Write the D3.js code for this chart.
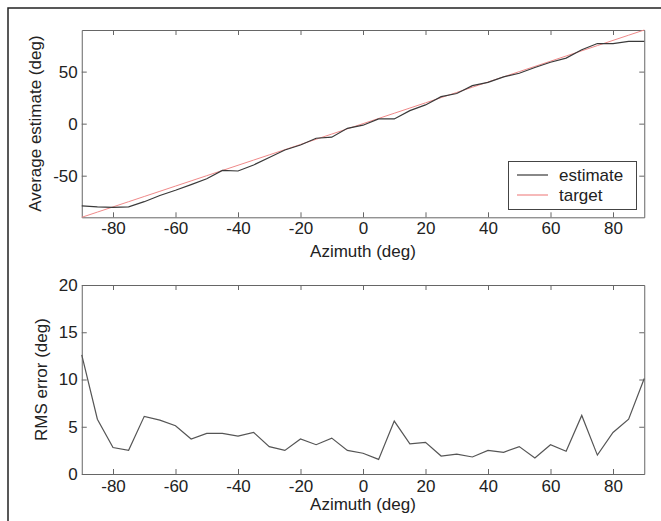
<!DOCTYPE html>
<html>
<head>
<meta charset="utf-8">
<script src="https://cdn.jsdelivr.net/npm/d3@7"></script>
<style>
  html, body { margin: 0; padding: 0; background: #fff; }
  svg { display: block; }
  text { font-family: "Liberation Sans", Arial, sans-serif; fill: #222; }
</style>
</head>
<body>
<svg id="chart" width="661" height="521"></svg>
<script>
// ---- data ----
const azimuth = [-90,-85,-80,-75,-70,-65,-60,-55,-50,-45,-40,-35,-30,-25,-20,-15,-10,-5,0,5,10,15,20,25,30,35,40,45,50,55,60,65,70,75,80,85,90];
const estimate = [-79,-80,-80.5,-80,-75,-69,-64,-58.6,-53,-45,-45.5,-39.7,-32.5,-25.3,-20.5,-14,-13,-4.5,-1.5,4.5,4.5,12.5,18,26,29,36.5,39.7,45,48.4,54,59,63,71,77,77,79,79];
const target = [-90,-85,-80,-75,-70,-65,-60,-55,-50,-45,-40,-35,-30,-25,-20,-15,-10,-5,0,5,10,15,20,25,30,35,40,45,50,55,60,65,70,75,80,85,90];
const rmsError = [12.6,5.8,2.8,2.5,6.1,5.7,5.1,3.7,4.3,4.3,4.0,4.4,2.9,2.5,3.7,3.1,3.8,2.5,2.2,1.55,5.6,3.2,3.35,1.9,2.1,1.8,2.5,2.3,2.9,1.7,3.1,2.4,6.2,2.0,4.4,5.8,10.1];
const xTicks = [-80,-60,-40,-20,0,20,40,60,80];
const yTicksTop = [-50,0,50];
const yTicksBottom = [0,5,10,15,20];
const legendLabels = ["estimate","target"];

const svg = d3.select("#chart");
const FONT = 17;
const axisColor = "#666";
const fmt = d => String(d); // plain hyphen-minus as in the reference

// outer figure frame (extends beyond the view on right and bottom)
svg.append("path")
  .attr("d", "M8,530 L8,8 L670,8")
  .attr("fill", "none").attr("stroke", "#222").attr("stroke-width", 1.5);

const x = d3.scaleLinear().domain([-90, 90]).range([81.75, 644.25]);

function panel(top, bottom, yDomain, yTicks, xPad, yTitle, yTitleX) {
  const y = d3.scaleLinear().domain(yDomain).range([bottom, top]);
  const g = svg.append("g");

  function style(sel) {
    sel.select(".domain").attr("stroke", axisColor);
    sel.selectAll(".tick line").attr("stroke", axisColor);
    sel.selectAll(".tick text").attr("font-size", FONT).attr("font-family", "Liberation Sans, Arial, sans-serif").attr("fill", "#222");
  }

  g.append("g").attr("transform", `translate(0,${bottom})`)
    .call(d3.axisBottom(x).tickValues(xTicks).tickFormat(fmt).tickSize(-5).tickPadding(xPad).tickSizeOuter(0))
    .call(style);
  g.append("g").attr("transform", `translate(0,${top})`)
    .call(d3.axisTop(x).tickValues(xTicks).tickSize(-5).tickFormat("").tickSizeOuter(0))
    .call(style);
  g.append("g").attr("transform", `translate(${x.range()[0]},0)`)
    .call(d3.axisLeft(y).tickValues(yTicks).tickFormat(fmt).tickSize(-5).tickPadding(4).tickSizeOuter(0))
    .call(style);
  g.append("g").attr("transform", `translate(${x.range()[1]},0)`)
    .call(d3.axisRight(y).tickValues(yTicks).tickSize(-5).tickFormat("").tickSizeOuter(0))
    .call(style);

  g.append("text")
    .attr("transform", `translate(${yTitleX},${(top + bottom) / 2}) rotate(-90)`)
    .attr("text-anchor", "middle").attr("dy", "0.35em")
    .attr("font-size", FONT).text(yTitle);

  return { g, y };
}

// ---- top panel ----
const p1 = panel(30, 217.3, [-90, 90], yTicksTop, 5, "Average estimate (deg)", 35);
svg.append("text").attr("x", 363).attr("y", 257).attr("text-anchor", "middle")
  .attr("font-size", FONT).text("Azimuth (deg)");

const line1 = d3.line().x((d, i) => x(azimuth[i])).y(d => p1.y(d));
p1.g.append("path").datum(target).attr("d", line1)
  .attr("fill", "none").attr("stroke", "#f08a8a").attr("stroke-width", 1);
p1.g.append("path").datum(estimate).attr("d", line1)
  .attr("fill", "none").attr("stroke", "#3a3a3a").attr("stroke-width", 1.2);

// legend
const lg = svg.append("g");
lg.append("rect").attr("x", 508.5).attr("y", 161.5).attr("width", 128).attr("height", 48)
  .attr("fill", "#fff").attr("stroke", "#444").attr("stroke-width", 1);
const legendColors = ["#3a3a3a", "#f08a8a"];
legendLabels.forEach((lab, i) => {
  const cy = 175 + i * 20;
  lg.append("line").attr("x1", 517).attr("x2", 548).attr("y1", cy).attr("y2", cy)
    .attr("stroke", legendColors[i]).attr("stroke-width", 1.2);
  lg.append("text").attr("x", 559).attr("y", cy).attr("dy", "0.35em")
    .attr("font-size", FONT).text(lab);
});

// ---- bottom panel ----
const p2 = panel(285, 474, [0, 20], yTicksBottom, 6, "RMS error (deg)", 41);
svg.append("text").attr("x", 363).attr("y", 510).attr("text-anchor", "middle")
  .attr("font-size", FONT).text("Azimuth (deg)");

const line2 = d3.line().x((d, i) => x(azimuth[i])).y(d => p2.y(d));
p2.g.append("path").datum(rmsError).attr("d", line2)
  .attr("fill", "none").attr("stroke", "#555").attr("stroke-width", 1.2);
</script>
</body>
</html>
